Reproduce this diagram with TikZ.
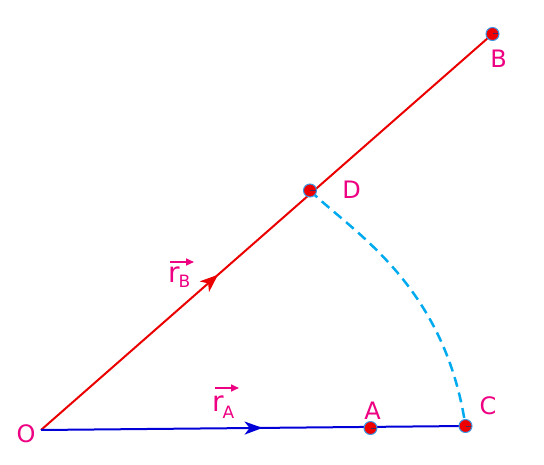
\documentclass[tikz,border=0pt]{standalone}
\usepackage{fontspec}
\setmainfont{DejaVu Sans}
\usetikzlibrary{arrows.meta,decorations.markings}
\definecolor{lblmag}{RGB}{238,0,130}
\definecolor{linered}{RGB}{235,0,0}
\definecolor{lineblue}{RGB}{0,0,215}
\definecolor{arccyan}{RGB}{0,170,238}
\definecolor{ptfill}{RGB}{238,0,0}
\definecolor{ptedge}{RGB}{60,150,225}
\definecolor{ptmark}{RGB}{70,40,90}
\tikzset{
  pt/.style={circle,fill=ptfill,draw=ptedge,line width=1pt,minimum size=13pt,inner sep=0pt,
    path picture={\draw[ptmark,line width=1pt] (path picture bounding box.center) -- (path picture bounding box.east);}},
  lbl/.style={text=lblmag,font=\fontsize{24}{24}\selectfont,inner sep=0pt},
  vecarrow/.style={draw=lblmag,line width=1.6pt,-{Triangle[length=8pt,width=7pt]}},
  seg/.style={line width=2pt},
}
\begin{document}
\begin{tikzpicture}[x=1pt,y=-1pt]
\useasboundingbox (0,0) rectangle (544,465);
% points
\coordinate (O) at (41,430);
\coordinate (Apos) at (370.5,428);
\coordinate (Cpos) at (465.5,426);
\coordinate (Dpos) at (310,190.5);
\coordinate (Bpos) at (492.5,34);
% lines
\draw[seg,linered,postaction={decorate},decoration={markings,
  mark=at position 0.392 with {\arrow{Stealth[length=18pt,width=14pt,inset=5pt]}}}]
  (O) -- (Bpos);
\draw[seg,lineblue,postaction={decorate},decoration={markings,
  mark=at position 0.522 with {\arrow{Stealth[length=18pt,width=13pt,inset=5pt]}}}]
  (O) -- (Cpos);
% dashed arc
\draw[arccyan,line width=2.5pt,dash pattern=on 10pt off 6pt]
  (Dpos) .. controls (351,231) and (444,283) .. (Cpos);
% point markers
\node[pt] (A) at (Apos) {};
\node[pt] (C) at (Cpos) {};
\node[pt] (D) at (Dpos) {};
\node[pt] (B) at (Bpos) {};
% labels
\node[lbl] (lO) at (26,434) {O};
\node[lbl] (lA) at (372.5,411) {A};
\node[lbl] (lC) at (488,406) {C};
\node[lbl] (lD) at (351.5,189.5) {D};
\node[lbl] (lB) at (498.5,59) {B};
% vector labels
\node[text=lblmag,inner sep=0pt,anchor=base west] (rB) at (168,283)
  {{\fontsize{28}{28}\selectfont r}\hspace{-1pt}\raisebox{-5pt}{\fontsize{17}{17}\selectfont B}};
\coordinate (rBs) at (170,262);
\coordinate (rBe) at (194,262);
\draw[vecarrow] (rBs) -- (rBe);
\node[text=lblmag,inner sep=0pt,anchor=base west] (rA) at (212,411)
  {{\fontsize{28}{28}\selectfont r}\hspace{-1pt}\raisebox{-7pt}{\fontsize{17}{17}\selectfont A}};
\coordinate (rAs) at (215,388);
\coordinate (rAe) at (239,388);
\draw[vecarrow] (rAs) -- (rAe);
\end{tikzpicture}
\end{document}
